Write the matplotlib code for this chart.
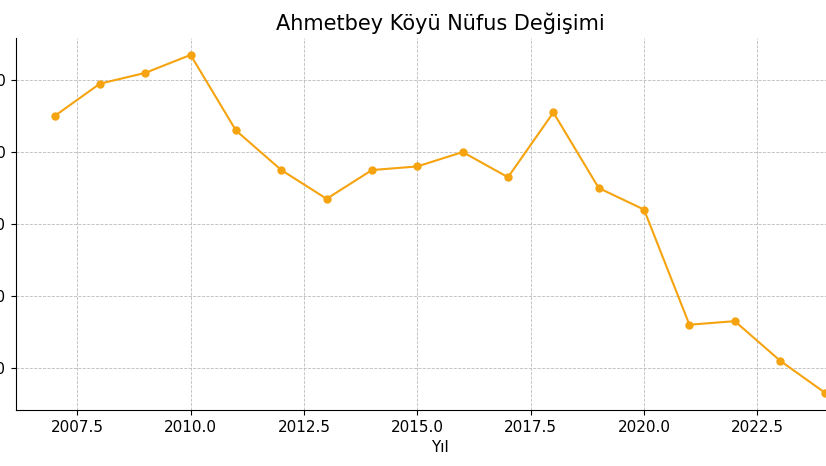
import matplotlib
matplotlib.use("Agg")
from matplotlib import pyplot as plt

years = [2007, 2008, 2009, 2010, 2011, 2012, 2013, 2014, 2015,
         2016, 2017, 2018, 2019, 2020, 2021, 2022, 2023, 2024]
population = [410, 419, 422, 427, 406, 395, 387, 395, 396,
              400, 393, 411, 390, 384, 352, 353, 342, 333]

fig = plt.figure(figsize=(8.26, 4.66), dpi=100)
# the original picture is cropped: axes start at the left edge and run past the right edge
ax = fig.add_axes([16 / 826, 56 / 466, 848 / 826, 372 / 466])

ax.plot(years, population, color="#F5A30F", marker="o", markersize=5, linewidth=1.5)
ax.set_title("Ahmetbey Köyü Nüfus Değişimi", fontsize=15)
ax.set_xlabel("Yıl", fontsize=11)
ax.set_ylabel("Nüfus", fontsize=11)
ax.tick_params(labelsize=11)
ax.grid(True, linestyle="--", color="#bcbcbc", linewidth=0.6)
ax.spines["top"].set_visible(False)
ax.spines["right"].set_visible(False)

fig.savefig("out.png", dpi=100)
